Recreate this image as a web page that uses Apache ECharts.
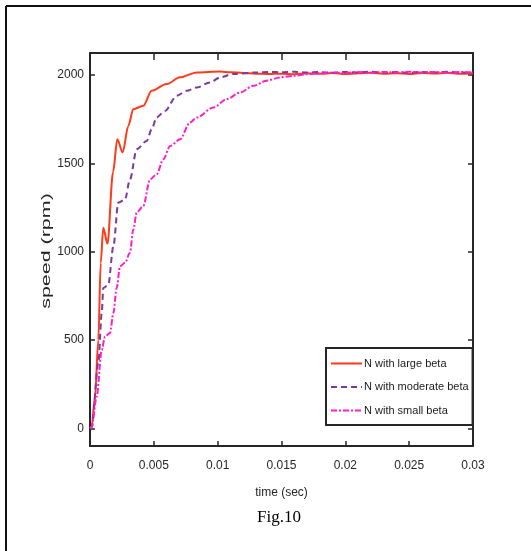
<!DOCTYPE html>
<html>
<head>
<meta charset="utf-8">
<script src="https://cdn.jsdelivr.net/npm/echarts@6/dist/echarts.min.js"></script>
<style>html,body{margin:0;padding:0;background:#fff;}#c{width:531px;height:551px;}</style>
</head>
<body>
<div id="c"></div>
<script>
var seriesNames = ['N with large beta', 'N with moderate beta', 'N with small beta'];
var xTicks = [0, 0.005, 0.01, 0.015, 0.02, 0.025, 0.03];
var yTicks = [0, 500, 1000, 1500, 2000];

var timeLarge = [0, 0.00013, 0.00039, 0.00065, 0.00084, 0.00104, 0.00137, 0.0018, 0.00214, 0.00256, 0.003, 0.00339, 0.00417, 0.00483, 0.006, 0.00705, 0.00836, 0.0102, 0.011, 0.012, 0.013, 0.014, 0.015, 0.016, 0.017, 0.018, 0.019, 0.020, 0.021, 0.022, 0.023, 0.024, 0.025, 0.026, 0.027, 0.028, 0.029, 0.030];
var speedLarge = [0, 10, 178, 500, 937, 1136, 1045, 1449, 1636, 1562, 1712, 1807, 1826, 1911, 1949, 1987, 2015, 2020, 2016, 2012, 2008, 2006, 2008, 2005, 2010, 2007, 2012, 2006, 2010, 2013, 2008, 2011, 2006, 2012, 2009, 2013, 2007, 2010];

var timeModerate = [0, 0.00013, 0.00065, 0.00092, 0.00104, 0.00143, 0.00183, 0.00222, 0.00274, 0.00313, 0.00366, 0.00444, 0.00483, 0.00522, 0.00587, 0.00679, 0.00757, 0.00836, 0.0094, 0.0102, 0.0112, 0.0131, 0.014, 0.015, 0.016, 0.017, 0.018, 0.019, 0.020, 0.021, 0.022, 0.023, 0.024, 0.025, 0.026, 0.027, 0.028, 0.029, 0.030];
var speedModerate = [0, 7, 369, 653, 795, 812, 1030, 1278, 1295, 1409, 1580, 1627, 1693, 1761, 1797, 1883, 1911, 1930, 1958, 1987, 2006, 2015, 2018, 2016, 2019, 2014, 2017, 2013, 2018, 2015, 2019, 2014, 2017, 2013, 2018, 2015, 2019, 2014, 2016];

var timeSmall = [0, 0.00013, 0.00052, 0.00092, 0.00117, 0.00157, 0.00183, 0.00209, 0.00235, 0.00274, 0.00313, 0.00339, 0.00366, 0.00417, 0.0047, 0.00522, 0.00574, 0.00627, 0.00705, 0.00783, 0.00836, 0.00966, 0.01071, 0.01175, 0.01279, 0.01384, 0.01488, 0.016, 0.017, 0.018, 0.019, 0.020, 0.021, 0.022, 0.023, 0.024, 0.025, 0.026, 0.027, 0.028, 0.029, 0.030];
var speedSmall = [0, 7, 178, 443, 519, 540, 653, 795, 917, 937, 994, 1125, 1222, 1258, 1409, 1438, 1523, 1598, 1636, 1731, 1760, 1816, 1864, 1901, 1939, 1968, 1987, 1996, 2004, 2010, 2014, 2012, 2017, 2013, 2018, 2014, 2019, 2015, 2018, 2013, 2017, 2015];

function pairs(t, v) { return t.map(function (x, i) { return [x, v[i]]; }); }

var sans = "'Liberation Sans', Arial, sans-serif";
var chart = echarts.init(document.getElementById('c'), null, {renderer: 'canvas'});

function axisLineStyle() { return {show: true, onZero: false, lineStyle: {color: '#262626', width: 2}}; }
function tickStyle(len, vals) { return {show: true, inside: true, length: len, customValues: vals, lineStyle: {color: '#262626', width: 1.5}}; }
function plain(v) { return String(v); }

chart.setOption({
  animation: false,
  backgroundColor: '#fff',
  grid: {left: 90, right: 58, top: 53, bottom: 105, show: false},
  xAxis: [
    {type: 'value', position: 'bottom', min: 0, max: 0.03,
     axisLine: axisLineStyle(), axisTick: tickStyle(5, xTicks), splitLine: {show: false},
     axisLabel: {customValues: xTicks, margin: 14, color: '#262626', fontFamily: sans, fontSize: 12, formatter: plain},
     name: 'time (sec)', nameLocation: 'middle', nameGap: 41,
     nameTextStyle: {color: '#262626', fontFamily: sans, fontSize: 12}},
    {type: 'value', position: 'top', min: 0, max: 0.03,
     axisLine: axisLineStyle(), axisTick: tickStyle(7, xTicks),
     axisLabel: {show: false}, splitLine: {show: false}}
  ],
  yAxis: [
    {type: 'value', position: 'left', min: -100, max: 2125,
     axisLine: axisLineStyle(), axisTick: tickStyle(5, yTicks), splitLine: {show: false},
     axisLabel: {customValues: yTicks, margin: 6, color: '#262626', fontFamily: sans, fontSize: 12, formatter: plain}},
    {type: 'value', position: 'right', min: -100, max: 2125,
     axisLine: axisLineStyle(), axisTick: tickStyle(5, yTicks),
     axisLabel: {show: false}, splitLine: {show: false}}
  ],
  legend: {
    orient: 'vertical', left: 326, top: 348,
    padding: [10, 4, 9, 4], itemGap: 12.5, itemWidth: 31, itemHeight: 12,
    backgroundColor: '#fff', borderColor: '#262626', borderWidth: 2, borderRadius: 0,
    itemStyle: {opacity: 0},
    textStyle: {color: '#1a1a1a', fontFamily: sans, fontSize: 11, padding: [0, 0, 0, -3]},
    data: seriesNames
  },
  series: [
    {name: seriesNames[0], type: 'line', data: pairs(timeLarge, speedLarge), showSymbol: false, symbol: 'none',
     smooth: 0.3, smoothMonotone: 'x', z: 3,
     lineStyle: {color: '#ff3a1a', width: 2}, itemStyle: {color: '#ff3a1a'}},
    {name: seriesNames[1], type: 'line', data: pairs(timeModerate, speedModerate), showSymbol: false, symbol: 'none',
     smooth: 0.3, smoothMonotone: 'x', z: 4,
     lineStyle: {color: '#7a3a9e', width: 2, type: [6, 4]}, itemStyle: {color: '#7a3a9e'}},
    {name: seriesNames[2], type: 'line', data: pairs(timeSmall, speedSmall), showSymbol: false, symbol: 'none',
     smooth: 0.3, smoothMonotone: 'x', z: 5,
     lineStyle: {color: '#ff1ec8', width: 2, type: [6, 2, 2, 2]}, itemStyle: {color: '#ff1ec8'}}
  ],
  graphic: [
    {type: 'line', shape: {x1: 6, y1: 6, x2: 531, y2: 6}, style: {stroke: '#111', lineWidth: 2}, silent: true},
    {type: 'line', shape: {x1: 6, y1: 6, x2: 6, y2: 551}, style: {stroke: '#111', lineWidth: 2}, silent: true},
    {type: 'text', x: 46, y: 251, rotation: Math.PI / 2, scaleX: 1.65,
     style: {text: 'speed (rpm)', fill: '#262626', font: "13px 'Liberation Sans', Arial, sans-serif", align: 'center', verticalAlign: 'middle'}},
    {type: 'text', x: 279, y: 518,
     style: {text: 'Fig.10', fill: '#000', font: "17px 'Liberation Serif', 'Times New Roman', serif", align: 'center', verticalAlign: 'middle'}}
  ]
});
</script>
</body>
</html>
